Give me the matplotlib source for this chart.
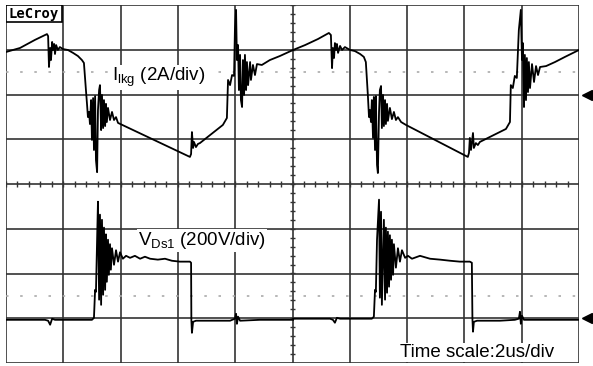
import numpy as np
from matplotlib import pyplot as plt
from matplotlib.patches import Rectangle

# time in us (2us/div), leakage current in A (2A/div), drain voltage in V (200V/div)
t_lkg_1 = [0.00, 0.49, 1.01, 1.43, 1.47, 1.50, 1.54, 1.57, 1.61, 1.64, 1.68, 1.71, 1.75, 1.81, 1.88, 1.99,
           2.16, 2.34, 2.51, 2.65, 2.72, 2.79, 2.83, 2.86, 2.90, 2.93, 2.97, 3.00, 3.04, 3.07, 3.11, 3.14,
           3.18, 3.21, 3.25, 3.28, 3.32, 3.35, 3.39, 3.42, 3.46, 3.49, 3.52, 3.56, 3.63, 3.70, 3.77, 3.84,
           3.91, 6.42, 6.46, 6.49, 6.53, 6.56, 6.63, 6.70, 6.77, 7.57, 7.71, 7.75, 7.82, 7.89, 7.96, 7.99,
           8.03, 8.06, 8.10, 8.13, 8.17, 8.20, 8.24, 8.27, 8.31, 8.34, 8.38, 8.41, 8.45, 8.52, 8.55, 8.62,
           8.69, 8.76, 8.93, 9.21, 9.56, 10.02]
i_lkg_1 = [1.90, 2.08, 2.44, 2.70, 2.61, 1.23, 2.08, 1.54, 2.35, 1.99, 2.26, 1.81, 2.21, 1.99, 2.12, 2.03,
           1.99, 1.86, 1.72, 1.54, 1.41, 0.20, -0.47, -1.01, -0.78, -1.32, -0.25, -2.03, -0.16, -2.48, -0.07, -2.93,
           -3.47, -0.69, 0.20, 0.42, -1.59, -0.02, -1.50, -0.25, -1.41, -0.42, -1.23, -0.60, -1.14, -0.78, -1.14, -1.01,
           -1.27, -2.79, -2.66, -1.68, -2.39, -2.12, -2.35, -2.21, -2.17, -1.36, -1.05, 0.65, 0.42, 0.87, 0.83, 2.88,
           3.78, 1.54, 2.21, 0.20, 1.77, -0.25, -0.56, 1.54, -0.02, 1.77, 0.20, 1.45, 0.42, 1.45, 0.65, 1.32,
           0.87, 1.36, 1.32, 1.54, 1.72, 1.99]

t_lkg_2 = [10.02, 10.44, 10.89, 11.27, 11.34, 11.38, 11.41, 11.45, 11.48, 11.52, 11.55, 11.59, 11.66, 11.73,
           11.83, 12.01, 12.18, 12.36, 12.49, 12.56, 12.63, 12.67, 12.70, 12.74, 12.77, 12.81, 12.84, 12.88,
           12.91, 12.95, 12.98, 13.02, 13.05, 13.09, 13.12, 13.16, 13.19, 13.23, 13.26, 13.30, 13.33, 13.40,
           13.47, 13.54, 13.61, 13.68, 13.79, 13.96, 16.12, 16.16, 16.19, 16.23, 16.30, 16.33, 16.40, 16.47,
           16.54, 17.45, 17.59, 17.62, 17.69, 17.76, 17.83, 17.90, 17.97, 18.01, 18.04, 18.08, 18.11, 18.15,
           18.18, 18.22, 18.25, 18.29, 18.36, 18.43, 18.50, 18.57, 18.64, 18.85, 19.16, 19.51, 20.00]
i_lkg_2 = [1.99, 2.21, 2.48, 2.75, 2.66, 1.18, 2.08, 1.63, 2.30, 1.99, 2.26, 1.86, 2.17, 1.99,
           2.12, 1.99, 1.94, 1.81, 1.68, 1.45, -0.02, -1.01, -0.69, -1.23, -0.25, -1.94, -0.11, -2.48,
           -0.07, -3.15, -3.51, -0.78, 0.20, 0.38, -1.50, -0.02, -1.41, -0.25, -1.32, -0.42, -1.18, -0.60,
           -1.10, -0.78, -1.14, -1.01, -1.23, -1.36, -2.79, -2.61, -1.94, -2.48, -1.72, -2.39, -2.17, -2.26,
           -2.12, -1.54, -1.23, 0.42, 0.29, 0.83, 0.74, 2.88, 3.78, 1.54, 2.30, -0.56, 1.77, -0.25,
           1.63, 0.11, 1.45, 0.29, 1.36, 0.56, 1.27, 0.87, 1.23, 1.27, 1.45, 1.68, 1.99]

t_ds_1 = [0.00, 1.36, 1.47, 1.54, 1.61, 1.71, 3.00, 3.07, 3.11, 3.14, 3.18, 3.21, 3.25, 3.28, 3.32, 3.35,
          3.39, 3.42, 3.46, 3.49, 3.52, 3.56, 3.59, 3.63, 3.66, 3.70, 3.77, 3.84, 3.91, 3.98, 4.08, 4.19,
          4.33, 4.50, 4.68, 4.85, 5.03, 5.30, 5.55, 5.79, 6.07, 6.42, 6.46, 6.47, 6.49, 6.53, 6.63, 7.12,
          7.82, 7.99, 8.03, 8.06, 8.10, 8.17, 8.86, 10.02]
v_ds_1 = [-7, -7, -11, -29, -2, -7, -7, 2, 127, 118, 351, 521, 83, 463, 60, 440,
          105, 405, 127, 375, 163, 351, 194, 331, 217, 313, 239, 304, 253, 295, 266, 279,
          270, 279, 266, 275, 266, 262, 266, 257, 253, 253, 248, -7, -65, -16, -11, -11,
          -11, -2, 20, -25, 7, -11, -7, -7]

t_ds_2 = [10.02, 11.31, 11.41, 11.48, 11.55, 11.66, 12.77, 12.84, 12.88, 12.91, 12.95, 13.02, 13.05, 13.09,
          13.12, 13.19, 13.23, 13.26, 13.30, 13.33, 13.37, 13.40, 13.44, 13.47, 13.51, 13.54, 13.61, 13.68,
          13.75, 13.82, 13.93, 14.03, 14.17, 14.45, 14.80, 15.15, 15.50, 15.84, 16.19, 16.26, 16.28, 16.30,
          16.33, 16.44, 17.24, 17.76, 17.90, 17.94, 17.97, 18.01, 18.08, 18.99, 20.00]
v_ds_2 = [-2, -2, -7, -20, 2, -2, -2, 7, 127, 118, 351, 530, 92, 476,
          60, 440, 83, 405, 114, 387, 141, 371, 172, 351, 194, 331, 226, 313,
          253, 304, 270, 279, 266, 279, 266, 262, 257, 253, 253, 248, -2, -60,
          -16, -11, -11, -7, -2, 29, -25, 11, -7, -7, -7]

plt.rcParams['font.family'] = 'Liberation Sans'
plt.rcParams['mathtext.fontset'] = 'custom'
plt.rcParams['mathtext.rm'] = 'Liberation Sans'

fig = plt.figure(figsize=(5.93, 3.66), dpi=100)
ax = fig.add_axes([6/593, 3/366, 573/593, 358/366])
ax.set_xlim(0, 20)
ax.set_ylim(-4, 4)
ax.axis('off')

# screen graticule
for x in np.arange(0, 21, 2):
    ax.axvline(x, color='#333333', lw=1.2, zorder=1)
for y in range(-4, 5):
    ax.axhline(y, color='#333333', lw=1.2, zorder=1)
ax.hlines(np.arange(-4, 4.01, 0.2), 9.9, 10.1, color='#333333', lw=1.0, zorder=1)
ax.vlines(np.arange(0, 20.01, 0.4), -0.07, 0.07, color='#333333', lw=1.0, zorder=1)
ax.axhline(2.5, color='#aaaaaa', lw=1.2, ls=(0, (1.5, 7)), zorder=1)
ax.axhline(-2.5, color='#aaaaaa', lw=1.2, ls=(0, (1.5, 7)), zorder=1)

# traces: current ground at +2 div, voltage ground at -3 div
for t, i in [(t_lkg_1, i_lkg_1), (t_lkg_2, i_lkg_2)]:
    ax.plot(t, np.array(i) / 2 + 2, color='black', lw=1.3, zorder=4)
for t, v in [(t_ds_1, v_ds_1), (t_ds_2, v_ds_2)]:
    ax.plot(t, np.array(v) / 200 - 3, color='black', lw=1.3, zorder=4)

# ground markers
ax.plot([20.28, 20.28], [2, -3], ls='none', marker='<', ms=7, color='black', clip_on=False)

box = dict(facecolor='white', edgecolor='none', pad=1)
ax.text(3.70, 2.30, r'$\mathregular{I_{lkg}}$ (2A/div)', fontsize=13.5, ha='left', va='baseline',
        bbox=box, zorder=3)
ax.text(4.61, -1.36, r'$\mathregular{V_{Ds1}}$ (200V/div)', fontsize=13.5, ha='left', va='baseline',
        bbox=box, zorder=3)
ax.text(13.75, -3.87, 'Time scale:2us/div', fontsize=13.5, ha='left', va='baseline',
        bbox=box, zorder=3)

ax.add_patch(Rectangle((0, 3.62), 1.955, 0.38, facecolor='white', edgecolor='black', lw=1.2, zorder=5))
ax.text(0.07, 3.70, 'LeCroy', fontsize=10, fontweight='bold', family='DejaVu Sans Mono',
        ha='left', va='baseline', zorder=6)

plt.savefig('out.png', dpi=100)
